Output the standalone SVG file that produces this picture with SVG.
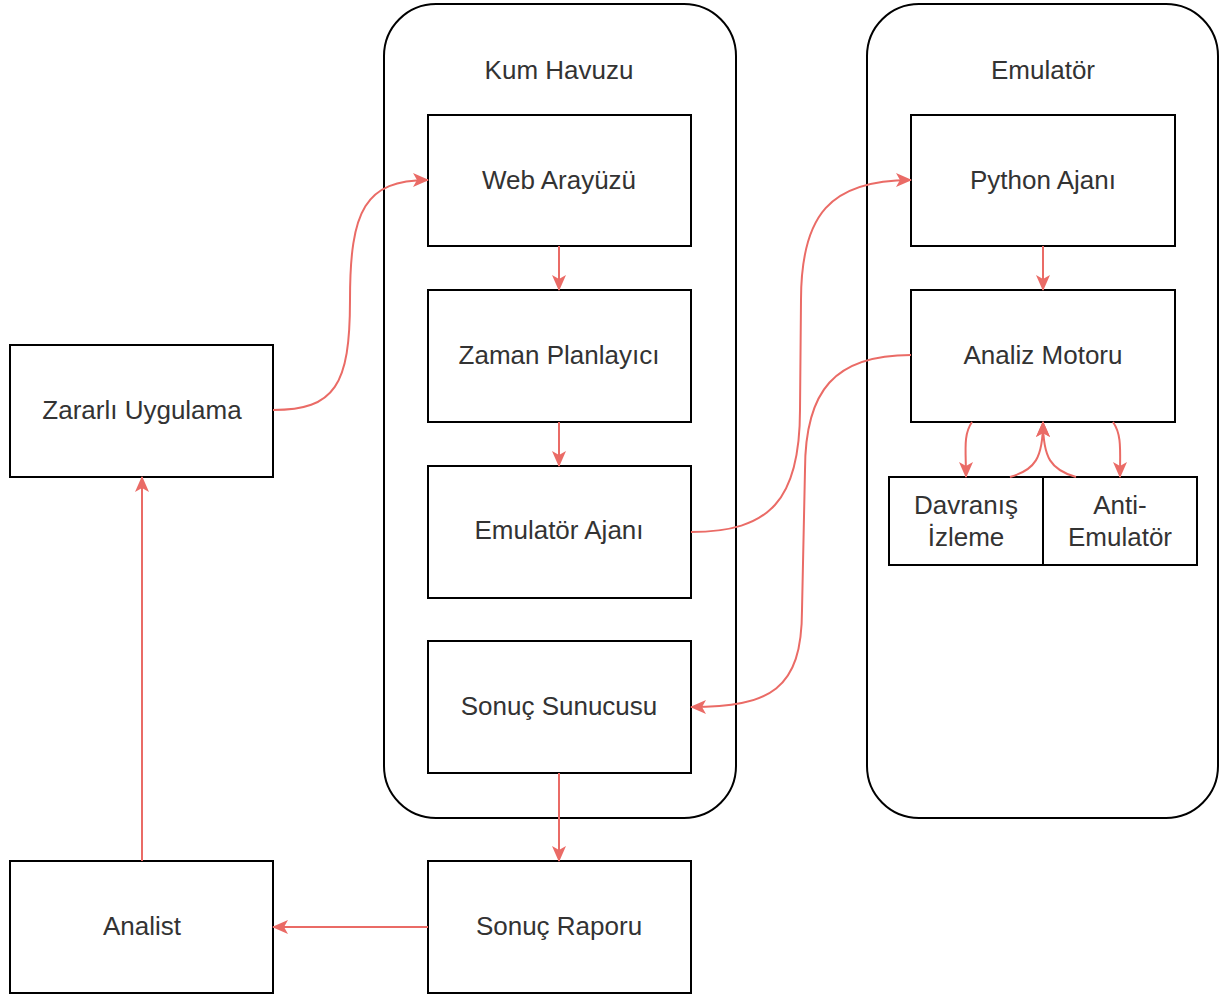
<svg xmlns="http://www.w3.org/2000/svg" width="1220" height="997" viewBox="0 0 1220 997">
<style>
.box{fill:#fff;stroke:#000;stroke-width:2}
.cont{fill:#fff;stroke:#000;stroke-width:2}
.t{font-family:"Liberation Sans",Arial,sans-serif;font-size:26px;fill:#333;text-anchor:middle}
.e{fill:none;stroke:#EA6B66;stroke-width:2}
</style>
<defs>
<marker id="arr" viewBox="0 0 16 14" refX="15" refY="7" markerWidth="16" markerHeight="14" markerUnits="userSpaceOnUse" orient="auto">
<path d="M0,0 L16,7 L0,14 L4,7 Z" fill="#EA6B66"/>
</marker>
</defs>
<rect width="1220" height="997" fill="#fff"/>
<g id="kum-havuzu">
<rect class="cont" x="384" y="4" width="352" height="814" rx="52"/>
<text class="t" x="559" y="79">Kum Havuzu</text>
</g>
<g id="emulator">
<rect class="cont" x="867" y="4" width="351" height="814" rx="52"/>
<text class="t" x="1043" y="79">Emulatör</text>
</g>
<g id="web-arayuzu">
<rect class="box" x="428" y="115" width="263" height="131"/>
<text class="t" x="559" y="189">Web Arayüzü</text>
</g>
<g id="zaman-planlayici">
<rect class="box" x="428" y="290" width="263" height="132"/>
<text class="t" x="559" y="364">Zaman Planlayıcı</text>
</g>
<g id="emulator-ajani">
<rect class="box" x="428" y="466" width="263" height="132"/>
<text class="t" x="559" y="539">Emulatör Ajanı</text>
</g>
<g id="sonuc-sunucusu">
<rect class="box" x="428" y="641" width="263" height="132"/>
<text class="t" x="559" y="715">Sonuç Sunucusu</text>
</g>
<g id="sonuc-raporu">
<rect class="box" x="428" y="861" width="263" height="132"/>
<text class="t" x="559" y="935">Sonuç Raporu</text>
</g>
<g id="analist">
<rect class="box" x="10" y="861" width="263" height="132"/>
<text class="t" x="142" y="935">Analist</text>
</g>
<g id="zararli-uygulama">
<rect class="box" x="10" y="345" width="263" height="132"/>
<text class="t" x="142" y="419">Zararlı Uygulama</text>
</g>
<g id="python-ajani">
<rect class="box" x="911" y="115" width="264" height="131"/>
<text class="t" x="1043" y="189">Python Ajanı</text>
</g>
<g id="analiz-motoru">
<rect class="box" x="911" y="290" width="264" height="132"/>
<text class="t" x="1043" y="364">Analiz Motoru</text>
</g>
<g id="davranis-izleme">
<rect class="box" x="889" y="477" width="154" height="88"/>
<text class="t" x="966" y="514">Davranış</text>
<text class="t" x="966" y="546">İzleme</text>
</g>
<g id="anti-emulator">
<rect class="box" x="1043" y="477" width="154" height="88"/>
<text class="t" x="1120" y="514">Anti-</text>
<text class="t" x="1120" y="546">Emulatör</text>
</g>
<g id="connectors">
<path class="e" marker-end="url(#arr)" d="M273,410 C335,410 350,385 350,300 C350,210 365,180 428,180"/>
<path class="e" marker-end="url(#arr)" d="M559,246 L559,290"/>
<path class="e" marker-end="url(#arr)" d="M559,422 L559,466"/>
<path class="e" marker-end="url(#arr)" d="M691,532 C770,532 800,500 800,410 L801,300 C801,215 830,180 911,180"/>
<path class="e" marker-end="url(#arr)" d="M911,355 C835,355 805,390 805,470 L802,610 C802,690 770,707 691,707"/>
<path class="e" marker-end="url(#arr)" d="M559,773 L559,861"/>
<path class="e" marker-end="url(#arr)" d="M428,927 L273,927"/>
<path class="e" marker-end="url(#arr)" d="M142,861 L142,477"/>
<path class="e" marker-end="url(#arr)" d="M1043,246 L1043,290"/>
<path class="e" marker-end="url(#arr)" d="M972,422 C963,435 966,450 966,477"/>
<path class="e" marker-end="url(#arr)" d="M1113,422 C1122,435 1120,450 1120,477"/>
<path class="e" marker-end="url(#arr)" d="M1010,477 C1035,470 1043,458 1043,422"/>
<path class="e" marker-end="url(#arr)" d="M1076,477 C1051,470 1043,458 1043,422"/>
</g>
</svg>
